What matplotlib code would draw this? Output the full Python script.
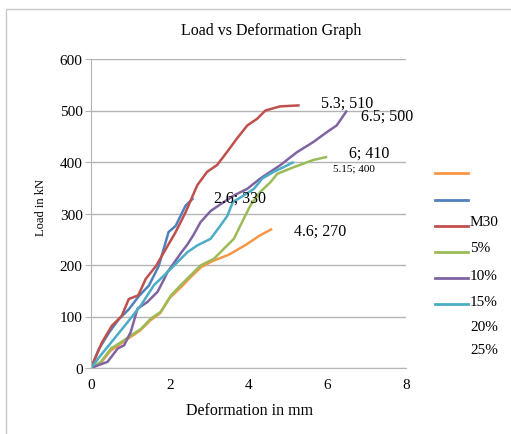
import matplotlib
matplotlib.use("Agg")
import matplotlib.pyplot as plt
from matplotlib.lines import Line2D
from matplotlib.patches import Rectangle

plt.rcParams["font.family"] = ["Liberation Serif", "DejaVu Serif"]

# series data (deformation mm, load kN)
orange_x = [0, 0.25, 0.5, 0.75, 1.0, 1.25, 1.5, 1.75, 2.0, 2.3, 2.55, 2.8, 3.1, 3.5, 3.95, 4.3, 4.6]
orange_y = [0, 10, 34, 47, 60, 73, 92, 106, 136, 158, 178, 196, 208, 220, 240, 258, 270]

blue_x = [0, 0.2, 0.46, 0.71, 0.96, 1.22, 1.47, 1.72, 1.97, 2.15, 2.4, 2.6]
blue_y = [0, 37, 69, 95, 114, 140, 160, 198, 264, 276, 315, 330]

red_x = [0, 0.28, 0.53, 0.78, 0.96, 1.2, 1.39, 1.65, 1.9, 2.15, 2.4, 2.7, 2.95, 3.2, 3.45, 3.7, 3.97, 4.22, 4.43, 4.8, 5.3]
red_y = [0, 50, 82, 101, 134, 141, 173, 198, 231, 264, 302, 355, 381, 394, 419, 445, 471, 484, 500, 508, 510]

green_x = [0, 0.25, 0.51, 0.76, 1.01, 1.27, 1.52, 1.77, 2.03, 2.28, 2.53, 2.78, 3.12, 3.38, 3.63, 3.88, 4.05, 4.3, 4.56, 4.73, 5.15, 5.65, 6.0]
green_y = [0, 12, 38, 50, 63, 76, 96, 109, 141, 161, 180, 199, 212, 232, 251, 290, 316, 342, 361, 377, 390, 404, 410]

purple_x = [0, 0.42, 0.68, 0.84, 1.01, 1.18, 1.43, 1.69, 1.86, 1.94, 2.3, 2.45, 2.6, 2.78, 3.04, 3.29, 3.63, 3.97, 4.3, 4.81, 5.23, 5.65, 5.99, 6.24, 6.5]
purple_y = [0, 12, 38, 44, 70, 115, 128, 148, 173, 186, 225, 240, 258, 283, 305, 318, 335, 348, 368, 394, 419, 439, 458, 471, 500]

teal_x = [0, 0.25, 0.59, 0.93, 1.27, 1.6, 1.86, 2.11, 2.45, 2.7, 3.04, 3.29, 3.46, 3.6, 3.88, 4.14, 4.35, 4.64, 4.89, 5.15]
teal_y = [0, 25, 57, 89, 122, 161, 180, 199, 225, 238, 251, 277, 295, 322, 335, 348, 368, 381, 390, 400]

series_colors = ["#F79646", "#4F81BD", "#C0504D", "#9BBB59", "#8064A2", "#4BACC6"]
legend_labels = ["M30", "5%", "10%", "15%", "20%", "25%"]

fig = plt.figure(figsize=(5.11, 4.35), dpi=100)
W, H = 511, 435

# chart area border
fig.patches.append(Rectangle((6 / W, -0.01), 1.0, (H - 10) / H + 0.01, transform=fig.transFigure,
                             fill=False, edgecolor="#c8c8c8", linewidth=1.0))

ax = fig.add_axes([91 / W, (H - 369) / H, (406 - 91) / W, (369 - 60) / H])

all_x = [orange_x, blue_x, red_x, green_x, purple_x, teal_x]
all_y = [orange_y, blue_y, red_y, green_y, purple_y, teal_y]
for xs, ys, c in zip(all_x, all_y, series_colors):
    ax.plot(xs, ys, color=c, linewidth=1.8, solid_capstyle="butt")

ax.set_xlim(0, 8)
ax.set_ylim(0, 600)
ax.set_xticks([0, 2, 4, 6, 8])
ax.set_yticks([0, 100, 200, 300, 400, 500, 600])
ax.yaxis.grid(True, color="#b4b4b4", linewidth=1.0)
ax.set_axisbelow(True)
for side in ["top", "right"]:
    ax.spines[side].set_visible(False)
ax.spines["left"].set_color("#b4b4b4")
ax.spines["bottom"].set_color("#b4b4b4")
ax.tick_params(axis="x", length=0, labelsize=11, pad=7)
ax.tick_params(axis="y", length=4, color="#b4b4b4", labelsize=11, pad=2)

fig.text(271 / W, 1 - 31 / H, "Load vs Deformation Graph", fontsize=11.5, ha="center", va="center")
fig.text(250 / W, 1 - 411 / H, "Deformation in mm", fontsize=11.5, ha="center", va="center")
fig.text(41 / W, 1 - 207 / H, "Load in kN", rotation=90, fontsize=9, ha="center", va="center")

# end point labels
ax.annotate("5.3; 510", (5.3, 510), xytext=(15, 2), textcoords="offset points", fontsize=11.5, ha="left", va="center")
ax.annotate("6.5; 500", (6.5, 500), xytext=(10, -4), textcoords="offset points", fontsize=11.5, ha="left", va="center")
ax.annotate("6; 410", (6.0, 410), xytext=(16, 3), textcoords="offset points", fontsize=11.5, ha="left", va="center")
ax.annotate("5.15; 400", (5.15, 400), xytext=(28, -4), textcoords="offset points", fontsize=8, ha="left", va="center")
ax.annotate("2.6; 330", (2.6, 330), xytext=(15, 0), textcoords="offset points", fontsize=11.5, ha="left", va="center")
ax.annotate("4.6; 270", (4.6, 270), xytext=(16, -1), textcoords="offset points", fontsize=11.5, ha="left", va="center")

# legend (lines and labels are offset like in the original)
line_ys = [174, 201, 227, 253, 279, 305]
for c, ly in zip(series_colors, line_ys):
    fig.add_artist(Line2D([435 / W, 468 / W], [1 - ly / H, 1 - ly / H], color=c, linewidth=2.0,
                          transform=fig.transFigure))
label_ys = [223, 249, 276, 303, 328, 351]
for lab, ty in zip(legend_labels, label_ys):
    fig.text(470 / W, 1 - ty / H, lab, fontsize=11, ha="left", va="center")

fig.savefig("out.png", dpi=100)
